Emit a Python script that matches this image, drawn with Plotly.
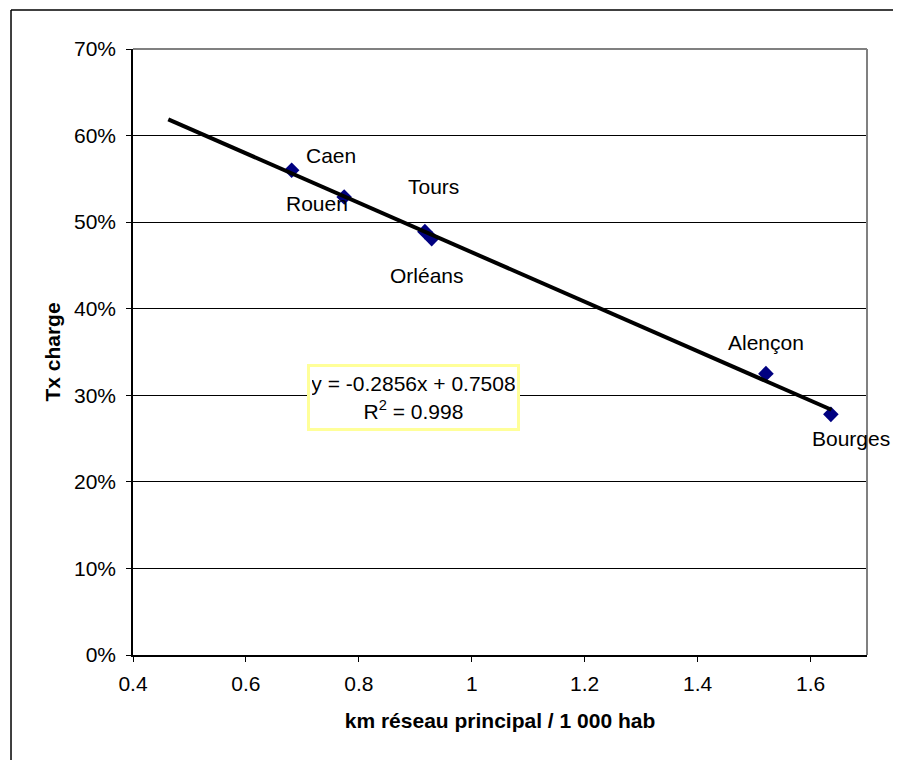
import plotly.graph_objects as go

# data
cities = ["Caen", "Rouen", "Tours", "Orléans", "Alençon", "Bourges"]
km_reseau = [0.681, 0.774, 0.917, 0.929, 1.521, 1.636]
tx_charge = [0.560, 0.529, 0.489, 0.481, 0.325, 0.278]

# linear trend shown on the chart
slope = -0.2856
intercept = 0.7508
r2 = 0.998
trend_x = [0.4625, 1.637]
trend_y = [slope * x + intercept for x in trend_x]

x_ticks = [0.4, 0.6, 0.8, 1.0, 1.2, 1.4, 1.6]
x_tick_labels = ["0.4", "0.6", "0.8", "1", "1.2", "1.4", "1.6"]
y_ticks = [0.0, 0.1, 0.2, 0.3, 0.4, 0.5, 0.6, 0.7]

# label offsets in pixels (xshift, yshift)
label_shift = {
    "Caen": (39, 15),
    "Rouen": (-27, -6),
    "Tours": (9, 45),
    "Orléans": (-5, -37),
    "Alençon": (0, 31),
    "Bourges": (20, -24),
}

FONT = "Liberation Sans, Arial, sans-serif"
FS = 21

fig = go.Figure()
fig.add_trace(go.Scatter(
    x=km_reseau, y=tx_charge, mode="markers",
    marker=dict(symbol="diamond", size=12, color="#000080"),
    showlegend=False, hoverinfo="skip",
))
fig.add_trace(go.Scatter(
    x=trend_x, y=trend_y, mode="lines",
    line=dict(color="black", width=4),
    showlegend=False, hoverinfo="skip",
))

for c, x, y in zip(cities, km_reseau, tx_charge):
    dx, dy = label_shift[c]
    fig.add_annotation(x=x, y=y, text=c, showarrow=False,
                       xshift=dx, yshift=dy,
                       font=dict(family=FONT, size=FS, color="black"))

# equation box
fig.add_annotation(
    x=0.897, y=0.297, showarrow=False,
    text=f"y = {slope}x + {intercept}<br>R<sup>2</sup> = {r2}",
    font=dict(family=FONT, size=FS, color="black"),
    width=203, height=57,
    bgcolor="white", bordercolor="#FFFF99", borderwidth=3, borderpad=2,
)

# page body has an 8px margin, so the figure sits 8px in from the window edge
fig.update_layout(
    width=885, height=752,
    margin=dict(l=125, r=26, t=41, b=105),
    paper_bgcolor="white", plot_bgcolor="white",
    font=dict(family=FONT, size=FS, color="black"),
    shapes=[
        # outer chart border, only left and top edges are in view
        dict(type="line", xref="paper", yref="paper",
             x0=-0.1662, x1=-0.1662, y0=-0.3, y1=1.0644,
             line=dict(color="black", width=1.5)),
        dict(type="line", xref="paper", yref="paper",
             x0=-0.1662, x1=1.06, y0=1.0644, y1=1.0644,
             line=dict(color="black", width=1.5)),
        # plot area top and right in grey
        dict(type="line", xref="paper", yref="paper", x0=0, x1=1, y0=1, y1=1,
             line=dict(color="#808080", width=2)),
        dict(type="line", xref="paper", yref="paper", x0=1, x1=1, y0=0, y1=1,
             line=dict(color="#808080", width=2)),
    ],
)

fig.update_xaxes(
    range=[0.4, 1.7], tickvals=x_ticks, ticktext=x_tick_labels,
    showgrid=False, zeroline=False, automargin=False,
    showline=True, linecolor="black", linewidth=1.5,
    ticks="outside", ticklen=5, tickcolor="black",
    ticklabelstandoff=4,
    tickfont=dict(size=FS),
    title=dict(text="<b>km réseau principal / 1 000 hab</b>", font=dict(size=FS), standoff=19),
)
fig.update_yaxes(
    range=[0, 0.7], tickvals=y_ticks, tickformat=".0%",
    showgrid=True, gridcolor="black", gridwidth=1,
    zeroline=False, automargin=False,
    showline=True, linecolor="black", linewidth=1.5,
    ticks="outside", ticklen=5, tickcolor="black",
    ticklabelstandoff=6,
    tickfont=dict(size=FS),
    title=dict(text="<b>Tx charge</b>", font=dict(size=FS), standoff=8),
)

fig.write_html("out.html")
